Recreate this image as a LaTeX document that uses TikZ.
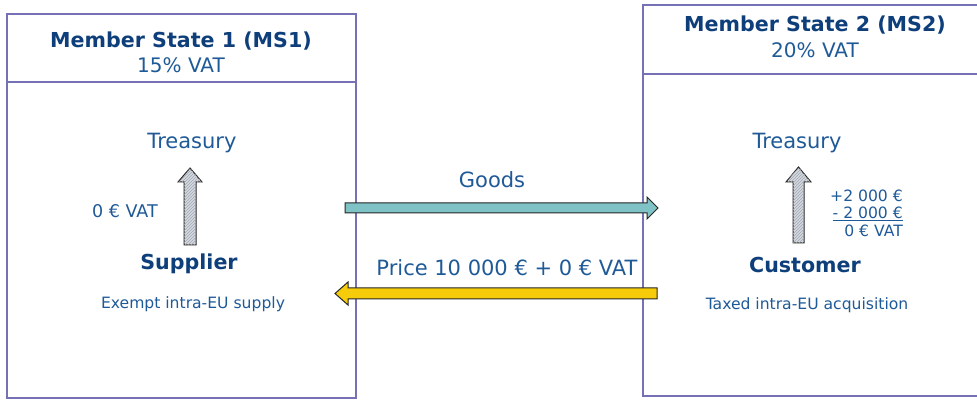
\documentclass[tikz,border=0pt]{standalone}
\usepackage{fontspec}
\setmainfont{DejaVu Sans}
\usetikzlibrary{patterns}
\definecolor{txt}{HTML}{1F5A98}
\definecolor{hdr}{HTML}{0E3F7A}
\definecolor{frame}{HTML}{7670B4}
\definecolor{teal}{HTML}{7FC3C6}
\definecolor{gold}{HTML}{F6CC0A}
\definecolor{hatchbg}{HTML}{D2DAE6}
\tikzset{
  boxline/.style={draw=frame, line width=1.3pt},
  hdrtext/.style={text=hdr, font=\bfseries\fontsize{20.6}{24}\selectfont, align=center},
  subtext/.style={text=txt, font=\fontsize{20}{24}\selectfont},
  bigtext/.style={text=txt, font=\fontsize{21}{24}\selectfont},
  roletext/.style={text=hdr, font=\bfseries\fontsize{20.6}{24}\selectfont},
  smalltext/.style={text=txt, font=\fontsize{15.6}{18}\selectfont},
  fatarrow/.style={draw=black!85, line width=1pt, line join=miter},
  uparrow/.style={fatarrow, fill=hatchbg, postaction={pattern=north east lines, pattern color=gray!70}},
}
\begin{document}
\begin{tikzpicture}[x=1pt,y=-1pt]
\useasboundingbox (0,0) rectangle (977,403);
\fill[white] (0,0) rectangle (977,403);
% boxes
\draw[boxline] (7,14) rectangle (356,398);
\draw[boxline] (7,82) -- (356,82);
\draw[boxline] (643,5) rectangle (990,396);
\draw[boxline] (643,74) -- (990,74);
% headers
\node[hdrtext] (h1) at (181,41) {Member State 1 (MS1)};
\node[subtext] (v1) at (181,65) {15\% VAT};
\node[hdrtext] (h2) at (815,25) {Member State 2 (MS2)};
\node[subtext] (v2) at (815,50) {20\% VAT};
% left content
\node[bigtext] (t1) at (192,143) {Treasury};
\node[roletext] (s1) at (189,264) {Supplier};
\node[smalltext] (e1) at (193,304) {Exempt intra-EU supply};
\node[smalltext, font=\fontsize{17.5}{20}\selectfont] (z1) at (125,211) {0 € VAT};
% right content
\node[bigtext] (t2) at (797,143) {Treasury};
\node[roletext] (c2) at (805,265) {Customer};
\node[smalltext] (a2) at (807,305) {Taxed intra-EU acquisition};
\node[smalltext, anchor=east, align=right, inner sep=0pt] (n2) at (903,213)
  {+2 000 €\\[-1pt] \underline{- 2 000 €}\\[0pt] 0 € VAT};
% centre labels
\node[bigtext] (g) at (492,180) {Goods};
\node[bigtext] (p) at (507,268) {Price 10 000 € + 0 € VAT};
% up arrows
\draw[uparrow] (184,245) -- (184,182) -- (178,182) -- (190,168) -- (202,182) -- (196,182) -- (196,245) -- cycle;
\draw[uparrow] (793,243) -- (793,182) -- (786,182) -- (798.5,167) -- (811,182) -- (804,182) -- (804,243) -- cycle;
% goods arrow
\draw[fatarrow, fill=teal] (345,203) -- (647,203) -- (647,197) -- (658,208) -- (647,219) -- (647,213) -- (345,213) -- cycle;
% price arrow
\draw[fatarrow, fill=gold] (657,288) -- (348,288) -- (348,282) -- (335,293.5) -- (348,305) -- (348,299) -- (657,299) -- cycle;
\end{tikzpicture}
\end{document}
